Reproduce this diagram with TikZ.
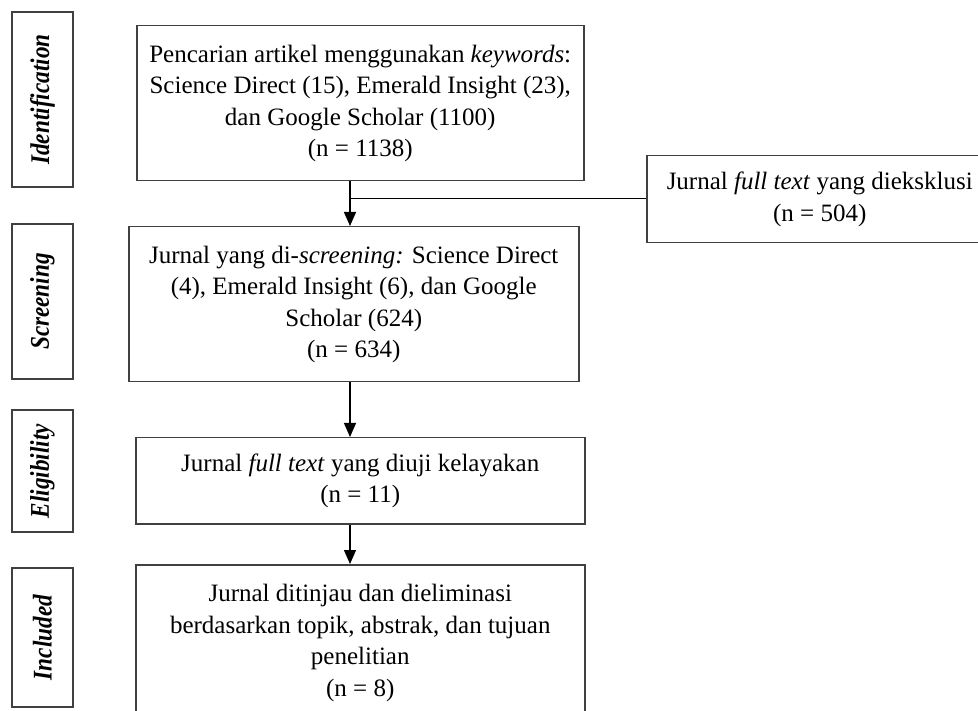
\documentclass[tikz,border=0pt]{standalone}
\usepackage{fontspec}
\setmainfont{Liberation Serif}
\usetikzlibrary{arrows.meta}
\newcommand{\BoxFont}{\fontsize{25}{31.5}\selectfont}
\newcommand{\PhaseFont}{\fontsize{27}{30}\selectfont\bfseries\itshape}

\begin{document}
\begin{tikzpicture}[>={Triangle[width=12pt,length=14pt]}, x=1pt, y=-1pt,
    flowbox/.style={draw=black!75, line width=1.5pt, align=center,
        inner sep=0pt, anchor=north west, font=\BoxFont},
    phasebox/.style={draw=black!75, line width=1.5pt, rotate=90,
        inner sep=0pt, minimum height=61pt, font=\PhaseFont},
    flowline/.style={line width=1.3pt}]
    \useasboundingbox (0,0) rectangle (978,711);
    \clip (0,0) rectangle (978,711);

    % phases on the left
    \node[phasebox, minimum width=175pt] (phaseid) at (42.5,99.5)
        {\scalebox{0.86}[1]{Identification}};
    \node[phasebox, minimum width=155pt] (phasescr) at (42.5,301.5)
        {\scalebox{0.86}[1]{Screening}};
    \node[phasebox, minimum width=122pt] (phaseel) at (42.5,471)
        {\scalebox{0.86}[1]{Eligibility}};
    \node[phasebox, minimum width=139pt] (phasein) at (42.5,637.5)
        {\scalebox{0.86}[1]{Included}};

    % main column
    \node[flowbox, minimum width=447pt, minimum height=155pt] (search) at (136,25)
        {Pencarian artikel menggunakan \textit{keywords}:\\
         Science Direct (15), Emerald Insight (23),\\
         dan Google Scholar (1100)\\
         (n = 1138)};
    \node[flowbox, minimum width=450pt, minimum height=155pt] (screen) at (128,226)
        {Jurnal yang di-\textit{screening:} Science Direct\\
         (4), Emerald Insight (6), dan Google\\
         Scholar (624)\\
         (n = 634)};
    \node[flowbox, minimum width=449pt, minimum height=86pt] (elig) at (135,437)
        {Jurnal \textit{full text} yang diuji kelayakan\\
         (n = 11)};
    \node[flowbox, minimum width=449pt, minimum height=156pt] (incl) at (135,564)
        {Jurnal ditinjau dan dieliminasi\\
         berdasarkan topik, abstrak, dan tujuan\\
         penelitian\\
         (n = 8)};

    % excluded
    \node[flowbox, minimum width=346pt, minimum height=87pt] (excl) at (646,155)
        {Jurnal \textit{full text} yang dieksklusi\\
         (n = 504)};

    \coordinate (spine) at (350,198.5);
    \draw[flowline] (search.south -| spine) -- (spine) -- (spine -| excl.west);
    \draw[flowline,->] (spine) -- (screen.north -| spine);
    \draw[flowline,->] (screen.south -| spine) -- (elig.north -| spine);
    \draw[flowline,->] (elig.south -| spine) -- (incl.north -| spine);
\end{tikzpicture}
\end{document}
